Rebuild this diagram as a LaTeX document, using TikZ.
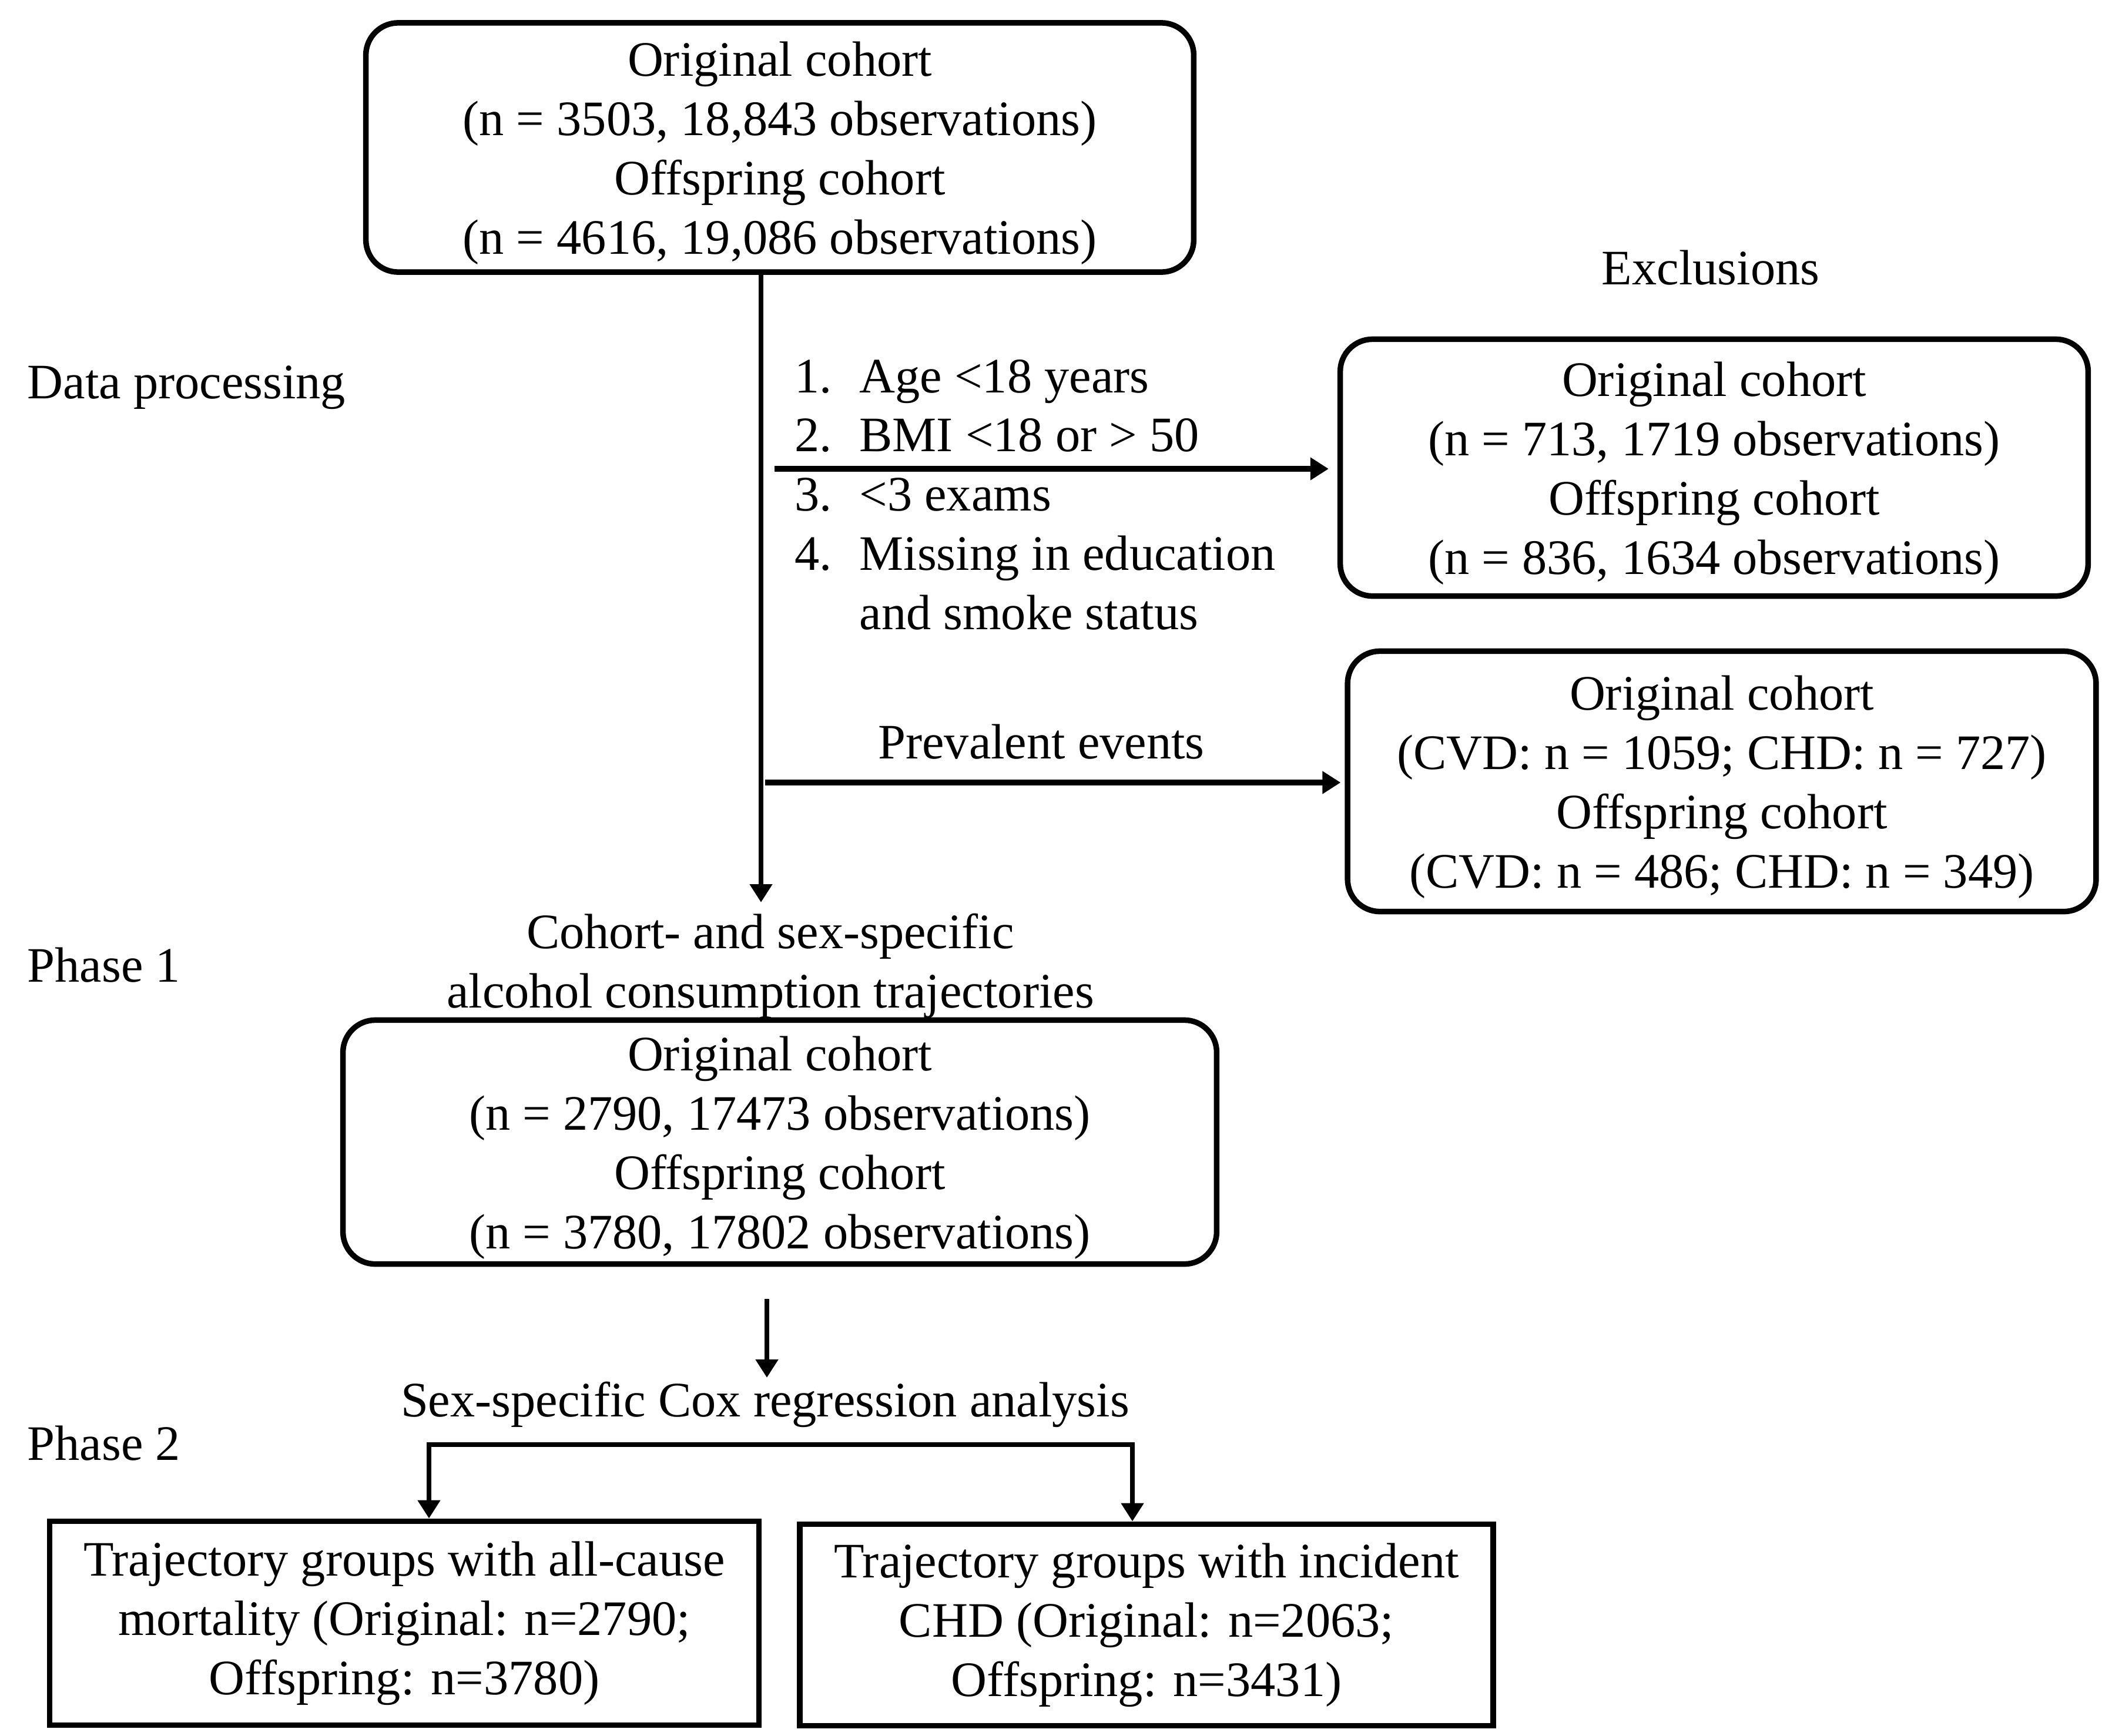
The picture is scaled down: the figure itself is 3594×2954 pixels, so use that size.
\documentclass[tikz,border=0pt]{standalone}
\usepackage{fontspec}
\setmainfont{Liberation Serif}
\usetikzlibrary{arrows.meta}
\newcommand{\topstrut}{\rule{0pt}{22pt}}
\begin{document}
\begin{tikzpicture}[x=0.01cm,y=-0.01cm,
  every node/.style={font=\fontsize{24}{28.7}\selectfont, inner sep=0pt},
  rbox/.style={draw, line width=2.7pt, rounded corners=0.55cm, align=center},
  sbox/.style={draw, line width=2.7pt, align=center},
  lbl/.style={align=center},
  vline/.style={line width=2.5pt},
  hline/.style={line width=2.9pt},
  bline/.style={line width=2.5pt},
  tip/.style={-{Triangle[length=0.31cm,width=0.37cm]}}
]
\fill[white] (0,0) rectangle (3594,2954);
\useasboundingbox (0,0) rectangle (3594,2954);

% boxes
\node[rbox, minimum width=14.08cm, minimum height=4.24cm] (top) at (1327,251)
  {\topstrut Original cohort\\(n = 3503, 18,843 observations)\\Offspring cohort\\(n = 4616, 19,086 observations)};
\node[rbox, minimum width=12.72cm, minimum height=4.37cm] (ex1) at (2917,796)
  {\topstrut Original cohort\\(n = 713, 1719 observations)\\Offspring cohort\\(n = 836, 1634 observations)};
\node[rbox, minimum width=12.73cm, minimum height=4.43cm] (ex2) at (2930,1330)
  {\topstrut Original cohort\\(CVD: n = 1059; CHD: n = 727)\\Offspring cohort\\(CVD: n = 486; CHD: n = 349)};
\node[rbox, minimum width=14.86cm, minimum height=4.15cm] (mid) at (1327,1944)
  {\topstrut Original cohort\\(n = 2790, 17473 observations)\\Offspring cohort\\(n = 3780, 17802 observations)};
\node[sbox, minimum width=12.06cm, minimum height=3.47cm] (bl) at (688,2763)
  {Trajectory groups with all-cause\\mortality (Original: n=2790;\\Offspring: n=3780)};
\node[sbox, minimum width=11.79cm, minimum height=3.43cm] (br) at (1951,2766)
  {Trajectory groups with incident\\CHD (Original: n=2063;\\Offspring: n=3431)};

% labels
\node (excl) at (2911,456) {Exclusions};
\node[anchor=west] (dp) at (46,660) {Data processing};
\node[anchor=west] (ph1) at (46,1643) {Phase 1};
\node[anchor=west] (ph2) at (46,2457) {Phase 2};
\node[lbl] (traj) at (1311,1644) {Cohort- and sex-specific\\alcohol consumption trajectories};
\node (cox) at (1302,2391) {Sex-specific Cox regression analysis};
\node (prev) at (1772,1263) {Prevalent events};
\node[anchor=base west] (crit) at (1352,668)
  {\begin{tabular}[t]{@{}l@{\hspace{0.465cm}}l@{}}1.&Age <18 years\\2.&BMI <18 or > 50\\3.&<3 exams\\4.&Missing in education\\&and smoke status\end{tabular}};

% connectors
\coordinate (vend) at (1295,1536);
\draw[vline,tip] (top.south -| vend) -- (vend);
\coordinate (a1s) at (1318,798);
\draw[hline,tip,shorten >=0.15cm] (a1s) -- (a1s -| ex1.west);
\coordinate (a2s) at (1302,1332);
\draw[hline,tip,shorten >=0.07cm] (a2s) -- (a2s -| ex2.west);
\coordinate (a3s) at (1305,2211);
\coordinate (a3e) at (1305,2345);
\draw[vline,tip] (a3s) -- (a3e);
\coordinate (bkl) at (730,2459);
\coordinate (bkr) at (1927,2459);
\draw[bline,line cap=rect] (bkl) -- (bkr);
\draw[vline,tip] (bkl) -- (bkl |- bl.north);
\draw[vline,tip] (bkr) -- (bkr |- br.north);
\end{tikzpicture}
\end{document}
